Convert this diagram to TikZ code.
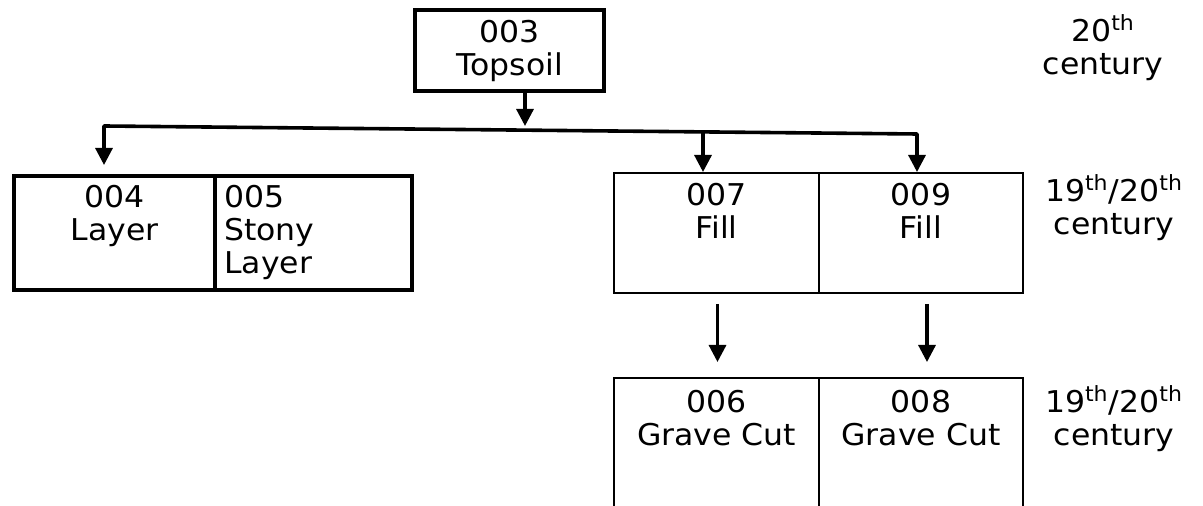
\documentclass[tikz,border=0pt]{standalone}
\usepackage{fontspec}
\setmainfont{DejaVu Sans}[FakeStretch=1.05]
\usetikzlibrary{arrows.meta}
\tikzset{
  cellbase/.style={draw, anchor=north west, inner sep=0pt, align=center},
  thickcell/.style={cellbase, line width=2.2pt},
  thincell/.style={cellbase, line width=1pt},
  lab/.style={anchor=north, inner sep=0pt, align=center, text width=90pt, text height=11pt},
  arr/.style={line width=1.6pt, -{Triangle[width=8.5pt,length=8.5pt]}},
  bar/.style={line width=1.8pt, line cap=round}
}
\begin{document}
\begin{tikzpicture}[x=0.5pt,y=-0.5pt]
\fontsize{15pt}{16.5pt}\selectfont
\useasboundingbox (0,0) rectangle (1203,506);
\clip (0,0) rectangle (1203,506);
% top box
\node[thickcell, minimum width=94.5pt, text width=94.5pt, text height=16pt, text depth=24.5pt] (c003) at (413,8) {003\\Topsoil};
% left pair
\node[thickcell, minimum width=100.5pt, text width=100.5pt, text height=15.5pt, text depth=41.5pt] (c004) at (12,174) {004\\Layer};
\node[thickcell, align=left, inner xsep=4.5pt, inner ysep=0pt, minimum width=98.5pt, text width=89.5pt, text height=15.5pt, text depth=41.5pt] (c005) at (213,174) {005\\Stony\\Layer};
% fills
\node[thincell, minimum width=102.5pt, text width=102.5pt, text height=16.5pt, text depth=43.5pt] (c007) at (613,172) {007\\Fill};
\node[thincell, minimum width=102pt, text width=102pt, text height=16.5pt, text depth=43.5pt] (c009) at (818,172) {009\\Fill};
% grave cuts
\node[thincell, minimum width=102.5pt, text width=102.5pt, text height=17.5pt, text depth=52.5pt] (c006) at (613,377) {006\\Grave Cut};
\node[thincell, minimum width=102pt, text width=102pt, text height=17.5pt, text depth=52.5pt] (c008) at (818,377) {008\\Grave Cut};
% period labels
\node[lab] (p1) at (1103,19) {20\textsuperscript{th}\\century};
\node[lab] (p2) at (1114,179) {19\textsuperscript{th}/20\textsuperscript{th}\\century};
\node[lab] (p3) at (1114,390) {19\textsuperscript{th}/20\textsuperscript{th}\\century};
% connectors
\coordinate (jL) at (104,126);
\coordinate (jR) at (917,134);
\coordinate (jT) at (525,129);
\coordinate (j7) at (703,132.5);
\draw[arr] (c003.south -| jT) -- ([yshift=1.5pt]jT);
\draw[bar] (jL) -- (jR);
\draw[arr, shorten >=4.5pt] (jL) -- (jL |- c004.north);
\draw[arr] (j7) -- (j7 |- c007.north);
\draw[arr] (jR) -- (jR |- c009.north);
\draw[arr, shorten <=5pt, shorten >=7.5pt] ([xshift=0.5pt]c007.south) -- ([xshift=0.5pt]c006.north);
\draw[arr, shorten <=5pt, shorten >=7.5pt] ([xshift=3pt]c009.south) -- ([xshift=3pt]c008.north);
\end{tikzpicture}
\end{document}
